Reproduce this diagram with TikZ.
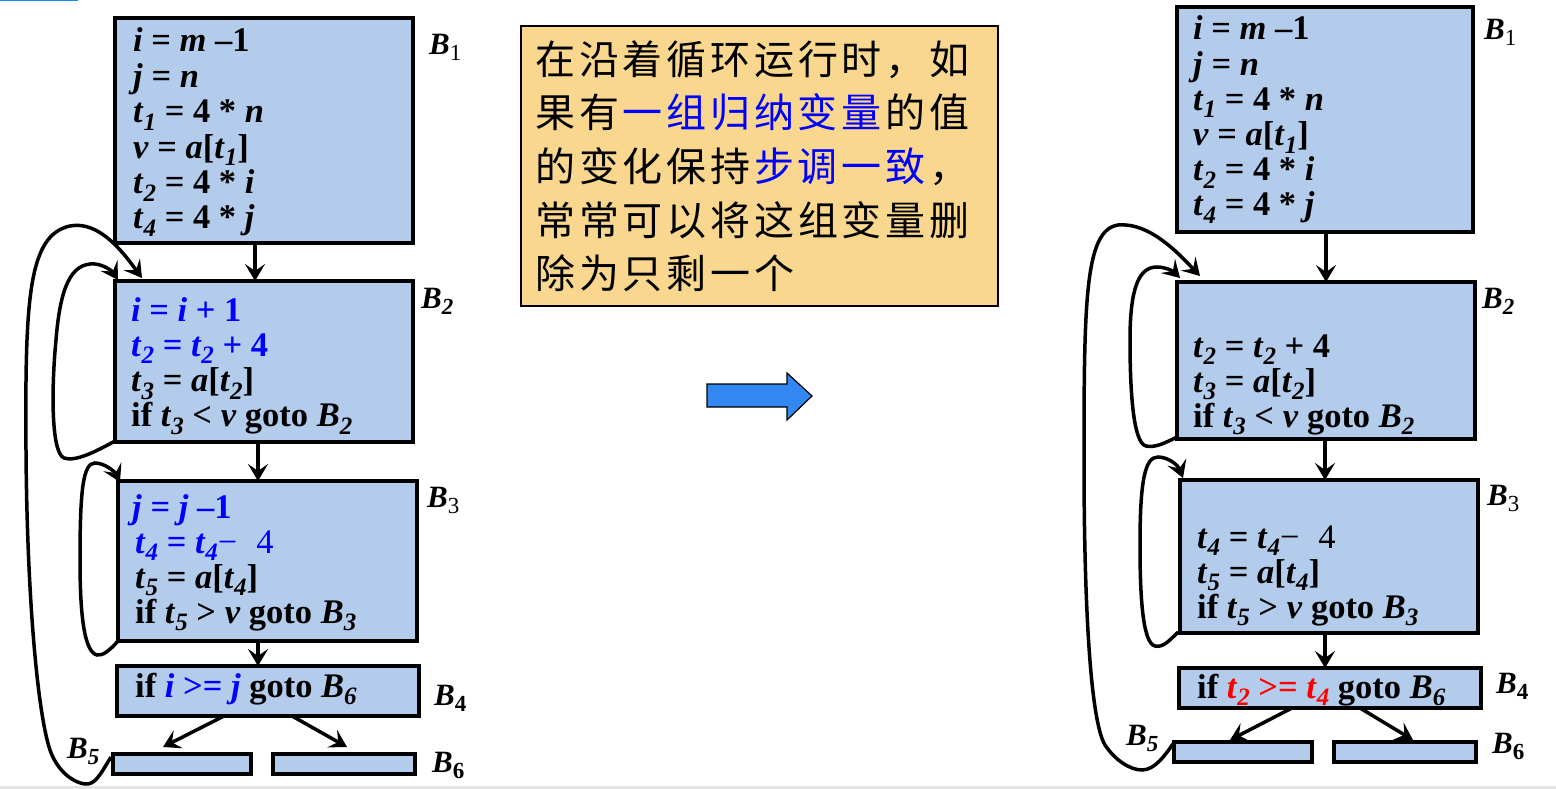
\documentclass[tikz,border=0pt]{standalone}
\usepackage{fontspec}
\setmainfont{Liberation Serif}
\newfontfamily\cjk{Noto Sans CJK SC}
\usetikzlibrary{arrows.meta}
\XeTeXinterchartokenstate=1
\newcount\cjkcount
\cjkcount="4E00
\loop
  \XeTeXcharclass\cjkcount=7
  \advance\cjkcount by 1
\ifnum\cjkcount<"A000 \repeat
\XeTeXcharclass"FF0C=7
\XeTeXinterchartoks 7 7 = {\kern3.8pt}
\XeTeXinterchartoks 7 4095 = {\kern3.8pt}
\definecolor{boxblue}{RGB}{180,204,236}
\definecolor{note}{RGB}{249,215,142}
\definecolor{arrowblue}{RGB}{50,135,240}
\definecolor{tblue}{RGB}{0,0,255}
\definecolor{tred}{RGB}{255,0,0}
\definecolor{topblue}{RGB}{20,140,220}
\newcommand\vv[1]{\textit{#1}}
\newcommand\subs[1]{\raisebox{-7.5pt}{\fontsize{25}{25}\selectfont\textit{#1}}}
\newcommand\lsub[1]{\raisebox{-6pt}{\fontsize{23}{23}\selectfont #1}}
\newcommand\thinfour{\textup{\mdseries\char"2212}\hspace{0.55em}\textup{\mdseries 4}}
\newcommand\codefont[1]{\fontsize{34.5}{#1}\selectfont\bfseries\lineskiplimit=-100pt\relax}
\begin{document}
\begin{tikzpicture}[x=1pt,y=-1pt,
  blk/.style={draw=black, line width=4pt, fill=boxblue, inner sep=0pt, outer sep=0pt, anchor=north west},
  code/.style={anchor=base west, inner sep=0pt, font=\codefont{35}},
  lab/.style={anchor=base west, inner sep=0pt, font=\fontsize{31}{31}\selectfont\bfseries},
  flow/.style={line width=3.5pt, -{Stealth[length=17pt,width=20pt,inset=7pt]}},
  loopline/.style={line width=3.5pt, -{Stealth[length=17pt,width=20pt,inset=7pt]}},
  cn/.style={anchor=base west, inner sep=0pt, font=\cjk\fontsize{40}{42}\selectfont}]
\useasboundingbox (0,0) rectangle (1556,789);
\fill[white] (0,0) rectangle (1556,789);
\fill[topblue] (0,0) rectangle (78,1.5);
\fill[gray!22] (0,786) rectangle (1556,789);

% ---------- left graph ----------
\node[blk, minimum width=298, minimum height=225] (b1) at (115,18) {};
\node[blk, minimum width=298, minimum height=161] (b2) at (115,281) {};
\node[blk, minimum width=299, minimum height=160] (b3) at (118,481) {};
\node[blk, minimum width=302, minimum height=50] (b4) at (117,666) {};
\node[blk, minimum width=138, minimum height=20] (b5) at (113,754) {};
\node[blk, minimum width=142, minimum height=20] (b6) at (273,754) {};

\node[code, font=\codefont{35.4}] (l1) at (133,52) {\vtop{%
  \hbox{\vv{i} = \vv{m} –1}
  \hbox{\vv{j} = \vv{n}}
  \hbox{\vv{t}\subs{1} = 4 * \vv{n}}
  \hbox{\vv{v} = \vv{a}[\vv{t}\subs{1}]}
  \hbox{\vv{t}\subs{2} = 4 * \vv{i}}
  \hbox{\vv{t}\subs{4} = 4 * \vv{j}}}};

\node[code, font=\codefont{35.3}] (l2) at (131,321) {\vtop{%
  \hbox{\color{tblue}\vv{i} = \vv{i} + 1}
  \hbox{\color{tblue}\vv{t}\subs{2} = \vv{t}\subs{2} + 4}
  \hbox{\vv{t}\subs{3} = \vv{a}[\vv{t}\subs{2}]}
  \hbox{if \vv{t}\subs{3} < \vv{v} goto \vv{B}\subs{2}}}};

\node[code, font=\codefont{35}] (l3) at (135,518) {\vtop{%
  \hbox{\kern-3pt\color{tblue}\vv{j} = \vv{j} –1}
  \hbox{\color{tblue}\vv{t}\subs{4} = \vv{t}\subs{4}\thinfour}
  \hbox{\vv{t}\subs{5} = \vv{a}[\vv{t}\subs{4}]}
  \hbox{if \vv{t}\subs{5} > \vv{v} goto \vv{B}\subs{3}}}};

\node[code] (l4) at (135,697) {if {\color{tblue}\vv{i} >= \vv{j}} goto \vv{B}\subs{6}};

\node[lab] (lb1) at (429,55) {\vv{B}\lsub{\mdseries 1}};
\node[lab] (lb2) at (421,308) {\vv{B}\lsub{\itshape 2}};
\node[lab] (lb3) at (427,507) {\vv{B}\lsub{\mdseries 3}};
\node[lab] (lb4) at (434,705) {\vv{B}\lsub{4}};
\node[lab] (lb5) at (67,758) {\vv{B}\lsub{\itshape 5}};
\node[lab] (lb6) at (432,772) {\vv{B}\lsub{6}};

\draw[flow] ([xshift=140pt]b1.south west) -- ([xshift=140pt]b2.north west);
\draw[flow] ([xshift=143pt]b2.south west) -- ([xshift=140pt]b3.north west);
\draw[flow] ([xshift=140pt]b3.south west) -- ([xshift=141pt]b4.north west);
\draw[flow] ([xshift=107pt]b4.south west) -- ([shift={(50,-7)}]b5.north west);
\draw[flow] ([xshift=175pt]b4.south west) -- ([shift={(74,-7)}]b6.north west);

\draw[loopline] ([shift={(-2,3)}]b5.north west)
  .. controls (100,775) and (95,785) .. (85,784)
  .. controls (75,783) and (58,773) .. (50,750)
  .. controls (38,715) and (27,600) .. (26,450)
  .. controls (25,300) and (28,235) .. (70,226)
  .. controls (100,220) and (125,255) .. ([shift={(27,-3)}]b2.north west);
\draw[loopline] ([shift={(0,-1)}]b2.south west)
  .. controls (95,452) and (75,462) .. (64,458)
  .. controls (50,452) and (52,380) .. (56,340)
  .. controls (60,290) and (70,262) .. (95,264)
  .. controls (105,265) and (113,272) .. ([shift={(3,-1)}]b2.north west);
\draw[loopline] (b3.south west)
  .. controls (110,650) and (103,656) .. (97,655)
  .. controls (85,652) and (80,620) .. (80,560)
  .. controls (80,490) and (83,463) .. (95,463)
  .. controls (105,463) and (115,472) .. ([shift={(2,1)}]b3.north west);

% ---------- note ----------
\node[draw=black, line width=2.5pt, fill=note, inner sep=0pt, outer sep=0pt, anchor=north west,
  minimum width=477, minimum height=280] (note) at (521,26) {};
\node[cn] (n1) at (535,75) {在沿着循环运行时，如};
\node[cn] (n2) at (535,128) {果有{\color{tblue}一组归纳变量}的值};
\node[cn] (n3) at (535,182) {的变化保持{\color{tblue}步调一致}，};
\node[cn] (n4) at (535,235) {常常可以将这组变量删};
\node[cn] (n5) at (535,288) {除为只剩一个};

% ---------- big arrow ----------
\draw[fill=arrowblue, line width=1.2pt, line join=miter]
  (707,384) -- (787,384) -- (787,373) -- (812,396) -- (787,420) -- (787,407) -- (707,407) -- cycle;

% ---------- right graph ----------
\node[blk, minimum width=296, minimum height=225] (r1) at (1177,7) {};
\node[blk, minimum width=298, minimum height=157] (r2) at (1177,282) {};
\node[blk, minimum width=298, minimum height=153] (r3) at (1180,480) {};
\node[blk, minimum width=302, minimum height=40] (r4) at (1179,668) {};
\node[blk, minimum width=138, minimum height=20] (r5) at (1174,742) {};
\node[blk, minimum width=142, minimum height=20] (r6) at (1334,742) {};

\node[code, font=\codefont{35.2}] (m1) at (1193,40) {\vtop{%
  \hbox{\vv{i} = \vv{m} –1}
  \hbox{\vv{j} = \vv{n}}
  \hbox{\vv{t}\subs{1} = 4 * \vv{n}}
  \hbox{\vv{v} = \vv{a}[\vv{t}\subs{1}]}
  \hbox{\vv{t}\subs{2} = 4 * \vv{i}}
  \hbox{\vv{t}\subs{4} = 4 * \vv{j}}}};

\node[code, font=\codefont{35}] (m2) at (1193,357) {\vtop{%
  \hbox{\vv{t}\subs{2} = \vv{t}\subs{2} + 4}
  \hbox{\vv{t}\subs{3} = \vv{a}[\vv{t}\subs{2}]}
  \hbox{if \vv{t}\subs{3} < \vv{v} goto \vv{B}\subs{2}}}};

\node[code, font=\codefont{35}] (m3) at (1197,548) {\vtop{%
  \hbox{\vv{t}\subs{4} = \vv{t}\subs{4}\thinfour}
  \hbox{\vv{t}\subs{5} = \vv{a}[\vv{t}\subs{4}]}
  \hbox{if \vv{t}\subs{5} > \vv{v} goto \vv{B}\subs{3}}}};

\node[code] (m4) at (1197,698) {if {\color{tred}\vv{t}\subs{2} >= \vv{t}\subs{4}} goto \vv{B}\subs{6}};

\node[lab] (rb1) at (1484,40) {\vv{B}\lsub{\mdseries 1}};
\node[lab] (rb2) at (1482,308) {\vv{B}\lsub{\itshape 2}};
\node[lab] (rb3) at (1487,505) {\vv{B}\lsub{\mdseries 3}};
\node[lab] (rb4) at (1496,693) {\vv{B}\lsub{4}};
\node[lab] (rb5) at (1126,745) {\vv{B}\lsub{\itshape 5}};
\node[lab] (rb6) at (1492,753) {\vv{B}\lsub{6}};

\draw[flow] ([xshift=149pt]r1.south west) -- ([xshift=149pt]r2.north west);
\draw[flow] ([xshift=148pt]r2.south west) -- ([xshift=145pt]r3.north west);
\draw[flow] ([xshift=145pt]r3.south west) -- ([xshift=146pt]r4.north west);
\draw[flow] ([xshift=113pt]r4.south west) -- ([shift={(56,-2)}]r5.north west);
\draw[flow] ([xshift=181pt]r4.south west) -- ([shift={(79,-2)}]r6.north west);

\draw[loopline] ([shift={(-1,2)}]r5.north west)
  .. controls (1165,755) and (1155,770) .. (1142,770)
  .. controls (1130,770) and (1115,760) .. (1105,745)
  .. controls (1090,720) and (1084,600) .. (1084,460)
  .. controls (1084,300) and (1085,230) .. (1118,225)
  .. controls (1150,222) and (1180,255) .. ([shift={(23,-6)}]r2.north west);
\draw[loopline] ([shift={(0,-2)}]r2.south west)
  .. controls (1165,443) and (1155,448) .. (1146,446)
  .. controls (1133,443) and (1130,390) .. (1130,340)
  .. controls (1130,285) and (1140,267) .. (1157,267)
  .. controls (1165,267) and (1173,271) .. ([shift={(3,-4)}]r2.north west);
\draw[loopline] ([shift={(-2,-1)}]r3.south west)
  .. controls (1170,640) and (1163,648) .. (1155,646)
  .. controls (1143,643) and (1140,600) .. (1140,545)
  .. controls (1140,480) and (1145,457) .. (1158,457)
  .. controls (1168,457) and (1178,465) .. ([shift={(3,-2)}]r3.north west);
\end{tikzpicture}
\end{document}
